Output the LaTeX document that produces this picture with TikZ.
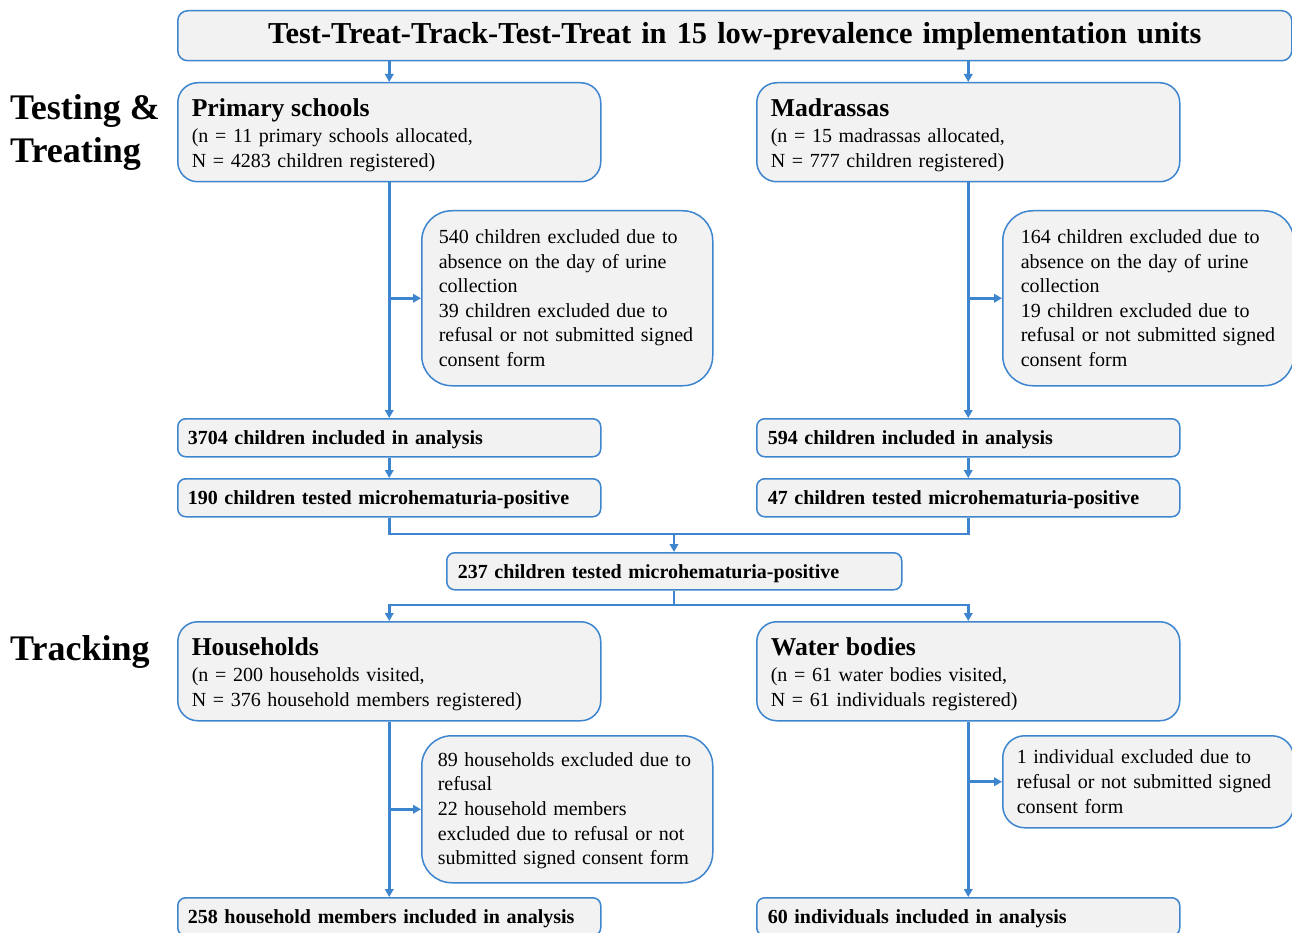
\documentclass[tikz,border=0pt]{standalone}
\usepackage{fontspec}
\setmainfont{Liberation Serif}
\usetikzlibrary{arrows.meta}
\definecolor{bline}{RGB}{61,133,206}
\definecolor{bfill}{RGB}{242,242,242}
\newcommand\bodyfnt{\fontsize{20}{24.6}\selectfont}
\newcommand\headfnt{\fontsize{25.7}{28}\selectfont\bfseries\rule{0pt}{23.5pt}}
\newcommand\titlefnt{\fontsize{30.4}{34}\selectfont\bfseries}
\newcommand\sidefnt{\fontsize{36}{43}\selectfont\bfseries}
\newcommand\bstrut{\rule{0pt}{18pt}}
\begin{document}
\begin{tikzpicture}[x=1pt,y=-1pt,
  boxbase/.style={draw=bline, fill=bfill, line width=1.5pt, inner xsep=0pt, inner ysep=0pt,
    anchor=north west, font=\bodyfnt},
  bx/.style n args={4}{boxbase, align=left, minimum width=#1pt, text width=#1pt,
    minimum height=#2pt, rounded corners=#3pt, execute at begin node={\leftskip=#4pt\relax}},
  bbx/.style n args={4}{bx={#1}{#2}{#3}{#4}, font=\bodyfnt\bfseries\bstrut},
  ln/.style={draw=bline, line width=2.6pt},
  arr/.style={ln, -{Triangle[length=8pt,width=8.5pt]}},
  side/.style={anchor=base west, align=left, font=\sidefnt, inner sep=0pt}
]
\clip (0,0) rectangle (1292,933);

% side labels
\node[side] (lab1) at (10,163) {Testing \&\\Treating};
\node[side] (lab2) at (10,660) {Tracking};

% title
\node[boxbase, align=center, minimum width=1114pt, text width=1114pt, minimum height=50pt,
  rounded corners=10pt, font=\titlefnt] (title) at (177,10)
  {Test-Treat-Track-Test-Treat in 15 low-prevalence implementation units};

% testing and treating
\node[bx={423}{99}{20}{14}] (prim) at (177,82)
  {{\headfnt Primary schools}\\[1.4pt](n = 11 primary schools allocated,\\N = 4283 children registered)};
\node[bx={423}{99}{20}{14}] (madr) at (756,82)
  {{\headfnt Madrassas}\\[1.4pt](n = 15 madrassas allocated,\\N = 777 children registered)};

\node[bx={291}{175}{30}{17}] (ex1) at (421,210)
  {540 children excluded due to\\absence on the day of urine\\collection\\39 children excluded due to\\refusal or not submitted signed\\consent form};
\node[bx={291}{175}{30}{18}] (ex2) at (1002,210)
  {164 children excluded due to\\absence on the day of urine\\collection\\19 children excluded due to\\refusal or not submitted signed\\consent form};

\node[bbx={423}{38}{8}{10}] (inc1) at (177,418) {3704 children included in analysis};
\node[bbx={423}{38}{8}{11}] (inc2) at (756,418) {594 children included in analysis};
\node[bbx={423}{38}{8}{10}] (pos1) at (177,478) {190 children tested microhematuria-positive};
\node[bbx={423}{38}{8}{11}] (pos2) at (756,478) {47 children tested microhematuria-positive};

\node[bbx={455}{37}{8}{11}] (tot) at (446,552) {237 children tested microhematuria-positive};

% tracking
\node[bx={423}{99}{20}{14}] (hh) at (177,621)
  {{\headfnt Households}\\[1.4pt](n = 200 households visited,\\N = 376 household members registered)};
\node[bx={423}{99}{20}{14}] (wb) at (756,621)
  {{\headfnt Water bodies}\\[1.4pt](n = 61 water bodies visited,\\N = 61 individuals registered)};

\node[bx={291}{147}{30}{16}] (ex3) at (421,735)
  {\rule{0pt}{17pt}89 households excluded due to\\refusal\\22 household members\\excluded due to refusal or not\\submitted signed consent form};
\node[bx={291}{92}{22}{14}] (ex4) at (1002,735)
  {1 individual excluded due to\\refusal or not submitted signed\\consent form};

\node[bbx={423}{38}{8}{10}] (fin1) at (177,897) {258 household members included in analysis};
\node[bbx={423}{38}{8}{11}] (fin2) at (756,897) {60 individuals included in analysis};

% connectors
\draw[arr] (title.south -| prim.north) -- (prim.north);
\draw[arr] (title.south -| madr.north) -- (madr.north);

\draw[arr] (prim.south) -- (inc1.north);
\draw[arr] (prim.south |- ex1.west) -- (ex1.west);
\draw[arr] (madr.south) -- (inc2.north);
\draw[arr] (madr.south |- ex2.west) -- (ex2.west);

\draw[arr] (inc1.south) -- (pos1.north);
\draw[arr] (inc2.south) -- (pos2.north);

\coordinate (j1) at (674,534);
\draw[ln] (pos1.south) |- (j1) -| (pos2.south);
\draw[arr] (j1) -- (j1 |- tot.north);

\coordinate (j2) at (674,605);
\draw[ln] (j2 |- tot.south) -- (j2);
\draw[arr] (j2) -| (hh.north);
\draw[arr] (j2) -| (wb.north);

\draw[arr] (hh.south) -- (fin1.north);
\draw[arr] (hh.south |- ex3.west) -- (ex3.west);
\draw[arr] (wb.south) -- (fin2.north);
\draw[arr] (wb.south |- ex4.west) -- (ex4.west);
\end{tikzpicture}
\end{document}
